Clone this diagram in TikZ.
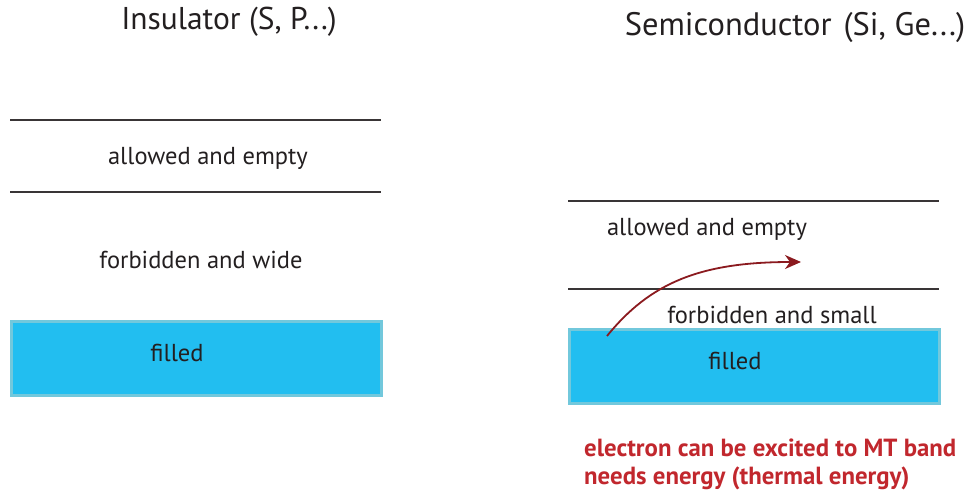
\documentclass[tikz,border=0pt]{standalone}
\usepackage{fontspec}
\setmainfont{PT Sans}
\usetikzlibrary{arrows.meta}
\definecolor{inkgray}{HTML}{231F20}
\definecolor{bandfill}{HTML}{22BEF0}
\definecolor{bandedge}{HTML}{72C8DC}
\definecolor{jumpred}{HTML}{8B1A1F}
\definecolor{notered}{HTML}{C1272D}
\tikzset{
  title/.style={text=inkgray, font=\fontsize{31.5}{36}\selectfont, inner sep=0pt},
  bandlabel/.style={text=inkgray, font=\fontsize{24.5}{28}\selectfont, inner sep=0pt},
  edge/.style={draw=inkgray!90, line width=1.6pt},
  filledband/.style={fill=bandfill, draw=bandedge, line width=3pt},
  note/.style={text=notered, font=\bfseries\fontsize{24.8}{28}\selectfont, inner sep=0pt, anchor=base west},
}
\begin{document}
\begin{tikzpicture}[x=1pt, y=-1pt]
\useasboundingbox (0,0) rectangle (974,494);

% ---- insulator ----
\node[title] (tins) at (229,22) {Insulator (S, P...)};
\coordinate (a1) at (10,120);  \coordinate (a2) at (381,120);
\coordinate (b1) at (10,192);  \coordinate (b2) at (381,192);
\draw[edge] (a1) -- (a2);
\draw[edge] (b1) -- (b2);
\node[bandlabel] (iempty) at (208,158) {allowed and empty};
\node[bandlabel] (iforb) at (201,260) {forbidden and wide};
\draw[filledband] (11,321) rectangle (381,395);
\node[bandlabel] (ifill) at (177,353) {filled};

% ---- semiconductor ----
\node[title, font=\fontsize{32.5}{36}\selectfont] (tsem) at (795,28) {Semiconductor\hspace{12pt}(Si, Ge...)};
\coordinate (c1) at (568,201); \coordinate (c2) at (939,201);
\coordinate (d1) at (568,289); \coordinate (d2) at (939,289);
\draw[edge] (c1) -- (c2);
\draw[edge] (d1) -- (d2);
\node[bandlabel] (sempty) at (707,229) {allowed and empty};
\node[bandlabel] (sforb) at (772,315) {forbidden and small};
\draw[filledband] (569,329) rectangle (939,403);
\node[bandlabel] (sfill) at (735,361) {filled};

% electron excitation
\coordinate (estart) at (607,336);
\coordinate (eend) at (801,262);
\draw[jumpred, line width=1.8pt, -{Stealth[length=16pt, width=14pt, inset=5pt]}]
  (estart) .. controls (650,283) and (700,262) .. (eend);

\node[note] (n1) at (584,456) {electron can be excited to MT band};
\node[note] (n2) at (584,484) {needs energy (thermal energy)};
\end{tikzpicture}
\end{document}
